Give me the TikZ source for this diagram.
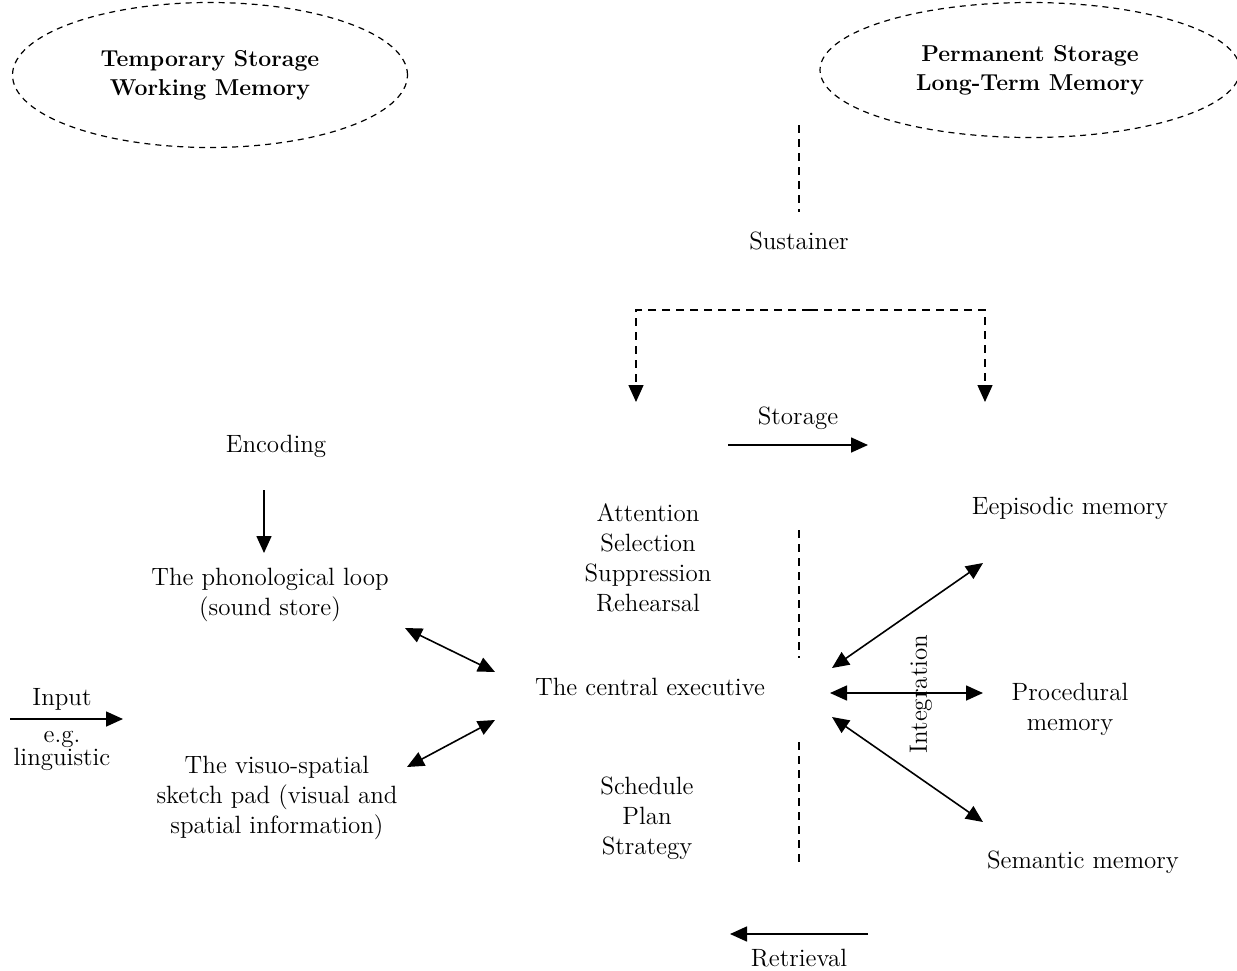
\documentclass[tikz,border=0pt]{standalone}
\usepackage{tikz}
\usetikzlibrary{arrows.meta,shapes.geometric}

\begin{document}
\begin{tikzpicture}[x=0.5pt, y=-0.5pt,
    lbl/.style={align=center, inner sep=0pt, font=\fontsize{12.5}{15}\selectfont},
    store/.style={ellipse, draw, dash pattern=on 3pt off 2.5pt, line width=0.6pt, align=center, inner sep=0pt, font=\bfseries\fontsize{11.5}{14.5}\selectfont},
    arr/.style={-{Triangle[length=8.5pt,width=7.5pt]}, line width=0.8pt},
    dbl/.style={{Triangle[length=8.5pt,width=7.5pt]}-{Triangle[length=8.5pt,width=7.5pt]}, line width=0.8pt},
    dsh/.style={dash pattern=on 4pt off 3pt, line width=0.7pt}]
    \useasboundingbox (0,0) rectangle (1237,970);

    % Storage ellipses
    \node [store, minimum width=197.5pt, minimum height=72.5pt] (tmpwm) at (210,75) {Temporary Storage\\Working Memory};
    \node [store, minimum width=210pt, minimum height=67.5pt] (ltm) at (1030,70) {Permanent Storage\\Long-Term Memory};

    % Sustainer
    \coordinate (susttop) at (799,125);
    \coordinate (sustbot) at (799,212);
    \draw [dsh] (susttop) -- (sustbot);
    \node [lbl] (sust) at (799,241) {Sustainer};

    % Bracket down to both sides
    \coordinate (brkmid) at (810,310);
    \coordinate (brkL) at (636,402);
    \coordinate (brkR) at (985,402);
    \draw [dsh, -{Triangle[length=8.5pt,width=7.5pt]}] (brkmid) -| (brkL);
    \draw [dsh, -{Triangle[length=8.5pt,width=7.5pt]}] (brkmid) -| (brkR);

    % Storage / Retrieval
    \node [lbl] (storage) at (798,418) {Storage};
    \coordinate (stoA) at (728,445);
    \coordinate (stoB) at (868,445);
    \draw [arr] (stoA) -- (stoB);
    \coordinate (retA) at (868,934);
    \coordinate (retB) at (730,934);
    \draw [arr] (retA) -- (retB);
    \node [lbl] (retrieval) at (799,958) {Retrieval};

    % Encoding and slave systems
    \node [lbl] (encoding) at (276,446) {Encoding};
    \coordinate (encA) at (264,490);
    \coordinate (encB) at (264,553);
    \draw [arr] (encA) -- (encB);
    \node [lbl] (phon) at (270,595) {The phonological loop\\(sound store)};
    \node [lbl] (visuo) at (277,798) {The visuo-spatial\\sketch pad (visual and\\spatial information)};

    % Input
    \node [lbl] (input) at (62,699) {Input};
    \node [lbl] (eg) at (62,751) {e.g.\\[-3.5pt]linguistic};
    \coordinate (inA) at (10,719);
    \coordinate (inB) at (123,719);
    \draw [arr] (inA) -- (inB);

    % Central executive
    \node [lbl] (attn) at (648,558) {Attention\\Selection\\Suppression\\Rehearsal};
    \node [lbl] (exec) at (650,687) {The central executive};
    \node [lbl] (sched) at (647,818) {Schedule\\Plan\\Strategy};
    \coordinate (phA) at (405,628);
    \coordinate (phB) at (495,672);
    \coordinate (vsA) at (407,767);
    \coordinate (vsB) at (495,720);
    \draw [dbl] (phA) -- (phB);
    \draw [dbl] (vsA) -- (vsB);

    % Dashed separators
    \coordinate (sepA) at (799,530);
    \coordinate (sepB) at (799,658);
    \coordinate (sepC) at (799,742);
    \coordinate (sepD) at (799,865);
    \draw [dsh] (sepA) -- (sepB);
    \draw [dsh] (sepC) -- (sepD);

    % Long-term stores
    \node [lbl] (episodic) at (1070,508) {Eepisodic memory};
    \node [lbl] (proc) at (1070,709) {Procedural\\memory};
    \node [lbl] (semantic) at (1083,862) {Semantic memory};
    \coordinate (hubA) at (832,668);
    \coordinate (hubB) at (830,693);
    \coordinate (hubC) at (832,717);
    \coordinate (epi) at (983,563);
    \coordinate (pro) at (983,693);
    \coordinate (sem) at (983,822);
    \draw [dbl] (hubA) -- (epi);
    \draw [dbl] (hubB) -- (pro);
    \draw [dbl] (hubC) -- (sem);
    \node [lbl, rotate=90] (integr) at (921,694) {Integration};
\end{tikzpicture}
\end{document}
